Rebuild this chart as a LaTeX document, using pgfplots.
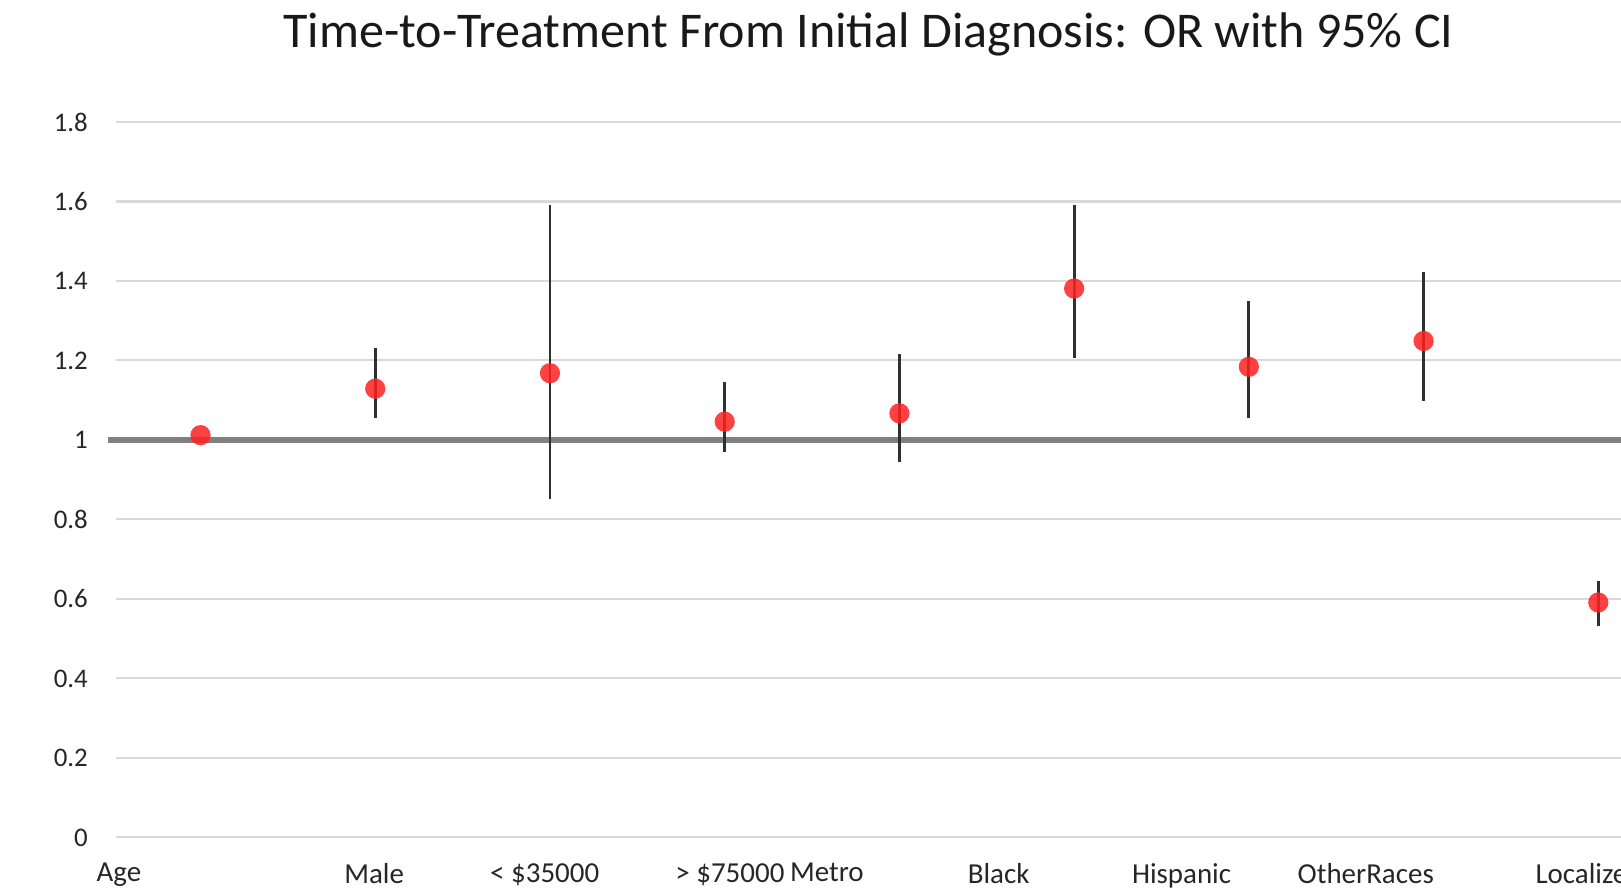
\documentclass[border=0pt]{standalone}
\usepackage{fontspec}
\setmainfont{Carlito}
\usepackage{pgfplots}
\usepackage{pgfplotstable}
\pgfplotsset{compat=1.18}
\definecolor{gridgray}{HTML}{D9D9D9}
\definecolor{axgray}{HTML}{808080}
\definecolor{ptred}{HTML}{FF2020}
\definecolor{errc}{HTML}{303030}
\pgfplotstableread{
x y ep em
1 1.012 0.000 0.000
2 1.129 0.102 0.075
3 1.168 0.424 0.317
4 1.046 0.099 0.076
5 1.067 0.148 0.123
6 1.381 0.211 0.174
7 1.184 0.166 0.130
8 1.249 0.174 0.151
9 0.591 0.054 0.058
}\ordata
\begin{document}
\begin{tikzpicture}
\useasboundingbox (-56pt,-27pt) rectangle (728pt,405pt);
\clip (-56pt,-27pt) rectangle (728pt,405pt);
\begin{axis}[
  at={(0,0)}, anchor=south west,
  scale only axis, width=728pt, height=346pt,
  xmin=0.515, xmax=9.13, ymin=0, ymax=1.8,
  axis line style={draw=none},
  clip=false,
  ytick={0,0.2,0.4,0.6,0.8,1,1.2,1.4,1.6,1.8},
  yticklabels={0,0.2,0.4,0.6,0.8,1,1.2,1.4,1.6,1.8},
  xtick={0.533,1.994,2.970,4.030,4.585,5.568,6.615,7.669,8.947},
  xticklabels={Age,Male,{< \$35000},{> \$75000},Metro,Black,Hispanic,OtherRaces,Localized},
  major tick length=0pt,
  ymajorgrids, grid style={gridgray, line width=1pt},
  yticklabel style={font=\fontsize{13}{13}\selectfont, text=black!85, xshift=-10pt},
  xticklabel style={font=\fontsize{14}{14}\selectfont, text=black!85, anchor=north, yshift=-9pt},
  title={Time-to-Treatment From Initial Diagnosis: OR with 95\% CI},
  title style={at={(0.5,1)}, anchor=center, yshift=36.5pt, font=\fontsize{24.2}{24.2}\selectfont, text=black!90},
]
\addplot[axgray, line width=2.6pt, forget plot] coordinates {(0.473,1) (9.3,1)};
\addplot[only marks, mark=*, mark size=4.9pt,
  mark options={fill=ptred, draw=ptred, draw opacity=0, fill opacity=0.85},
  error bars/.cd, y dir=both, y explicit, error mark=none,
  error bar style={errc, line width=1.4pt}]
  table[x=x, y=y, y error plus=ep, y error minus=em]{\ordata};
\end{axis}
\end{tikzpicture}
\end{document}
